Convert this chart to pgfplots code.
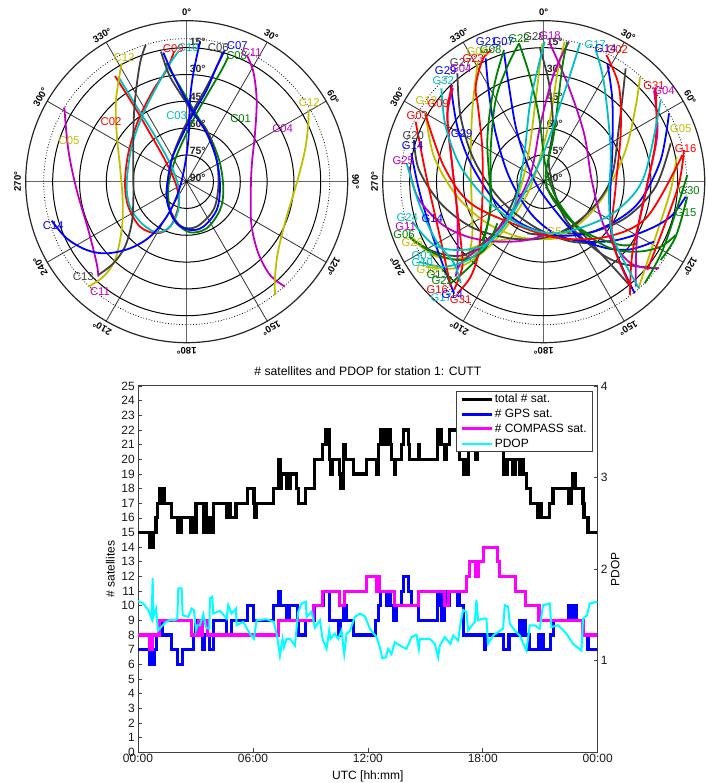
\documentclass[border=0pt]{standalone}
\usepackage{pgfplots}
\usepackage{fontspec}
\setmainfont{Liberation Sans}
\pgfplotsset{compat=1.18}
\definecolor{kk}{rgb}{0.25,0.25,0.25}
\definecolor{bb}{rgb}{0,0,1}
\definecolor{rr}{rgb}{1,0,0}
\definecolor{gg}{rgb}{0,0.5,0}
\definecolor{cc}{rgb}{0,0.75,0.75}
\definecolor{mm}{rgb}{0.75,0,0.75}
\definecolor{yy}{rgb}{0.75,0.75,0}
\definecolor{puremag}{rgb}{1,0,1}
\definecolor{purecy}{rgb}{0,1,1}
\newcommand{\satfont}{\fontsize{11.3}{13}\selectfont}
\newcommand{\tickfont}{\fontsize{12}{14}\selectfont}
\newcommand{\outfont}{\fontsize{9.5}{11}\selectfont\bfseries}
\newcommand{\skygrid}[3]{%
\begin{scope}[shift={(#1pt,#2pt)}]
 \foreach \a in {30,60,120,150,210,240,300,330} \draw[line width=.8pt,black!80] (0,0)--(\a:161pt);
 \foreach \a in {0,90,180,270} \draw[line width=1.1pt,black!60] (0,0)--(\a:161pt);
 \foreach \r in {26.8,53.6,80.4,107.2,134} \draw[line width=1pt,black] (0,0) circle (\r pt);
 \draw[line width=.8pt,black,dotted] (0,0) circle (143pt);
 \draw[line width=1.2pt,black!85] (0,0) circle (161pt);
 \fill (0,0) circle (1.5pt);
 \foreach \az in {#3} \node[rotate=-\az,font=\outfont,inner sep=0pt] at ({90-\az}:169pt) {\az°};
 \foreach \e/\r in {15/139.3,30/112.3,45/85,60/58.3,75/31,90/4}
   \node[font=\fontsize{10.5}{12}\selectfont\bfseries,inner sep=0pt,text=black!85] at (11pt,\r pt) {\e°};
\end{scope}}
\pgfplotsset{tr/.style={line width=1.8pt,smooth,tension=0.55,no marks},
 sky/.style={anchor=south west,width=354pt,height=360pt,scale only axis,hide axis,clip=false,
 xmin=0,xmax=1062,ymin=0,ymax=1080,y dir=reverse}}
\newcommand{\tr}[2]{\addplot[#1,tr] coordinates {#2};}
\newcommand{\lab}[4]{\node[text=#1,font=\satfont,inner sep=0pt] at (axis cs:#2,#3) {#4};}
\begin{document}
\begin{tikzpicture}[x=1pt,y=1pt]
\useasboundingbox (0,0) rectangle (708pt,783pt);
\skygrid{186.7}{601.3}{0,30,60,90,120,150,180,210,240,270,300,330}
\skygrid{543.7}{601.3}{0,30,60,120,150,180,210,240,270,300,330}

% ---- COMPASS sky plot ----
\begin{axis}[sky,at={(0pt,423pt)}]
\tr{gg}{(498,190)(540,260)(590,345)(630,410)(660,490)(670,570)(660,630)(620,685)(570,697)(530,670)(510,630)(505,560)(525,480)(555,410)(590,340)(630,270)(665,210)(685,170)}
\tr{rr}{(345,228)(400,315)(450,400)(500,490)(530,560)(535,620)(510,680)(470,700)(420,680)(385,620)(375,550)(385,460)(415,360)(460,270)(500,210)(522,155)}
\tr{cc}{(355,230)(410,320)(460,400)(510,490)(535,560)(535,630)(510,680)(470,697)(425,670)(390,620)(380,550)(395,440)(430,340)(470,260)(510,190)(535,155)}
\tr{mm}{(855,860)(810,825)(775,760)(755,680)(752,600)(755,500)(765,400)(770,300)(760,215)(740,165)}
\tr{mm}{(193,322)(205,450)(230,570)(265,690)(290,790)(295,830)}
\tr{yy}{(825,885)(825,830)(835,750)(860,650)(890,550)(915,450)(925,370)(925,330)}
\tr{yy}{(265,860)(310,830)(345,780)(365,690)(368,600)(360,500)(350,400)(348,300)(365,190)}
\tr{kk}{(483,155)(510,230)(560,310)(578,340)(620,390)(650,480)(655,560)(640,630)(590,680)(545,680)(515,640)(500,580)(515,480)(545,400)(580,330)(620,260)(655,190)(668,155)}
\tr{kk}{(295,825)(340,790)(375,740)(395,670)(400,600)(400,500)(400,400)(405,300)(420,190)(437,135)}
\tr{bb}{(490,158)(515,215)(550,285)(585,345)(620,400)(650,480)(660,560)(650,630)(610,680)(570,690)(530,670)(505,620)(500,570)(515,480)(545,410)(580,340)(620,270)(650,200)(675,150)}
\tr{bb}{(155,662)(200,715)(260,750)(320,760)(390,745)(450,710)(500,650)(530,590)(550,520)(565,420)(570,300)(580,220)(600,125)}
\lab{gg}{722}{355}{C01}
\lab{rr}{333}{366}{C02}
\lab{cc}{530}{346}{C03}
\lab{mm}{848}{385}{C04}
\lab{yy}{207}{422}{C05}
\lab{kk}{655}{143}{C06}
\lab{bb}{712}{137}{C07}
\lab{gg}{710}{166}{C08}
\lab{rr}{520}{145}{C09}
\lab{cc}{565}{143}{C10}
\lab{mm}{755}{158}{C11}
\lab{mm}{300}{875}{C11}
\lab{yy}{372}{173}{C12}
\lab{yy}{928}{307}{C12}
\lab{kk}{250}{830}{C13}
\lab{bb}{160}{678}{C14}
\end{axis}

% ---- GPS sky plot ----
\begin{axis}[sky,at={(354pt,423pt)}]
\tr{yy}{(170,715)(250,770)(340,770)(420,710)(480,620)(520,480)(545,300)(565,130)}
\tr{yy}{(215,800)(300,805)(370,770)(450,690)(530,560)(585,370)(610,220)(632,125)}
\tr{yy}{(858,232)(845,320)(815,450)(760,570)(700,650)(630,700)(560,716)(480,716)(400,728)(340,750)}
\tr{yy}{(215,340)(240,470)(310,590)(400,670)(500,712)(600,716)(650,695)}
\tr{yy}{(968,470)(950,570)(905,710)(855,860)}
\tr{yy}{(372,182)(355,330)(350,500)(355,700)(340,775)}
\tr{kk}{(180,420)(195,510)(260,610)(350,680)(450,712)(540,718)(620,700)}
\tr{kk}{(310,220)(320,350)(360,480)(440,600)(540,680)(640,722)(720,730)}
\tr{kk}{(558,145)(585,250)(597,380)(585,500)(630,650)(720,745)(800,790)(910,805)}
\tr{kk}{(815,205)(795,380)(770,540)(700,640)(610,700)(520,700)}
\tr{kk}{(950,430)(905,560)(820,650)(720,695)(640,700)}
\tr{kk}{(170,715)(240,755)(330,765)(420,700)(470,620)(500,540)}
\tr{kk}{(575,560)(640,650)(740,760)(835,865)}
\tr{bb}{(395,175)(405,280)(425,400)(465,530)(530,640)(610,705)(700,725)(790,720)(880,690)(950,650)(995,590)}
\tr{bb}{(450,158)(465,260)(490,400)(540,540)(610,640)(680,715)(760,745)(830,748)(900,725)}
\tr{bb}{(290,255)(310,380)(350,490)(420,600)(500,670)(600,705)(700,700)(790,660)(860,600)(920,480)(945,340)}
\tr{bb}{(172,460)(195,570)(230,690)(265,790)(300,880)}
\tr{bb}{(760,190)(775,300)(775,450)(768,620)(780,740)(842,880)}
\tr{mm}{(165,500)(190,590)(260,670)(340,710)(430,725)(520,720)(600,695)}
\tr{mm}{(585,125)(640,250)(690,400)(715,550)(755,690)(830,790)(915,805)}
\tr{mm}{(645,125)(600,220)(560,370)(530,520)(470,640)(390,730)(320,790)(305,830)}
\tr{mm}{(900,272)(910,400)(880,550)(850,700)(845,860)}
\tr{mm}{(297,265)(280,350)(295,500)(310,650)(310,810)}
\tr{gg}{(495,130)(460,200)(425,300)(410,450)(410,600)(395,700)(365,780)(290,850)}
\tr{gg}{(495,130)(525,220)(555,350)(575,500)(610,600)(680,690)(770,745)(850,755)(920,740)(965,705)}
\tr{gg}{(450,150)(420,260)(400,420)(410,620)(385,720)}
\tr{gg}{(640,125)(625,200)(600,400)(575,540)(620,630)(700,700)(800,735)(850,730)}
\tr{gg}{(1000,525)(930,740)(872,850)}
\tr{gg}{(1000,590)(965,710)(920,780)}
\tr{gg}{(165,710)(240,760)(320,780)(390,750)(430,670)}
\tr{rr}{(185,365)(215,520)(260,720)(290,860)}
\tr{rr}{(215,345)(270,500)(350,610)(500,680)(620,715)(760,710)(880,650)(985,465)}
\tr{rr}{(295,255)(280,340)(295,500)(320,720)(325,800)(300,870)}
\tr{rr}{(412,150)(385,180)(365,260)(372,320)(385,450)(385,600)(375,750)(350,830)(310,880)}
\tr{rr}{(757,165)(795,260)(800,400)(785,560)(775,720)(830,860)}
\tr{rr}{(905,265)(905,420)(870,600)(835,760)(828,885)}
\tr{rr}{(990,450)(975,550)(930,680)(880,810)}
\tr{cc}{(262,265)(275,380)(320,500)(400,600)(490,670)(590,700)(690,680)(790,630)(870,530)(920,300)}
\tr{cc}{(175,665)(240,735)(320,750)(400,730)(470,650)(560,480)(630,280)(678,130)}
\tr{cc}{(195,785)(270,800)(350,775)(430,700)(480,620)(510,470)(530,300)(572,125)}
\tr{cc}{(158,490)(195,610)(245,720)(300,790)(320,850)}
\tr{cc}{(725,150)(750,250)(770,450)(765,600)(780,720)(855,865)}
\lab{bb}{398}{124}{G21}
\lab{bb}{448}{126}{G07}
\lab{gg}{495}{116}{G22}
\lab{kk}{540}{110}{G28}
\lab{mm}{588}{108}{G18}
\lab{cc}{724}{135}{G17}
\lab{bb}{755}{145}{G14}
\lab{rr}{790}{150}{G02}
\lab{yy}{370}{155}{G06}
\lab{gg}{410}{148}{G08}
\lab{kk}{320}{188}{G27}
\lab{rr}{358}{177}{G23}
\lab{mm}{320}{207}{G04}
\lab{bb}{275}{212}{G29}
\lab{cc}{268}{242}{G32}
\lab{yy}{217}{302}{G12}
\lab{rr}{253}{310}{G09}
\lab{rr}{190}{348}{G03}
\lab{kk}{178}{408}{G20}
\lab{bb}{176}{438}{G14}
\lab{bb}{323}{400}{G29}
\lab{mm}{148}{483}{G25}
\lab{rr}{900}{257}{G31}
\lab{mm}{930}{271}{G04}
\lab{yy}{980}{387}{G05}
\lab{rr}{995}{445}{G16}
\lab{gg}{1005}{573}{G30}
\lab{gg}{995}{638}{G15}
\lab{cc}{160}{654}{G24}
\lab{bb}{235}{655}{G14}
\lab{mm}{155}{680}{G11}
\lab{gg}{150}{705}{G06}
\lab{yy}{175}{727}{G26}
\lab{cc}{205}{766}{G03}
\lab{cc}{205}{787}{G10}
\lab{yy}{220}{808}{G19}
\lab{gg}{250}{825}{G13}
\lab{gg}{265}{842}{G22}
\lab{rr}{250}{868}{G16}
\lab{cc}{262}{892}{G17}
\lab{bb}{295}{885}{G14}
\lab{rr}{320}{898}{G31}
\lab{yy}{600}{695}{G5}
\end{axis}

% ---- satellites count ----
\begin{axis}[at={(138pt,30.7pt)},anchor=south west,width=459.7pt,height=366.3pt,scale only axis,
 xmin=0,xmax=1380,ymin=0,ymax=25,
 xtick={0,345,690,1035,1380},xticklabels={00:00,06:00,12:00,18:00,00:00},
 ytick={0,1,...,25},tick align=inside,xtick pos=bottom,ytick pos=left,
 major tick length=4pt,tick style={kk,line width=.7pt},axis line style={line width=1pt,kk},
 ticklabel style={font=\tickfont,text=black!90},
 yticklabel style={inner sep=0pt,xshift=-3pt},
 xticklabel style={inner sep=0pt,yshift=-2pt},
 /pgf/number format/assume math mode=true,
 title={\# satellites and PDOP for station 1: CUTT},
 title style={font=\fontsize{12.2}{14}\selectfont,at={(axis description cs:0.5,1.0255)},anchor=center,inner sep=0pt},
 xlabel={UTC [hh:mm]},ylabel={\# satellites},
 every axis x label/.style={at={(axis description cs:0.5,-0.0665)},anchor=center,font=\tickfont,inner sep=0pt},
 every axis y label/.style={at={(axis description cs:-0.06,0.5)},rotate=90,anchor=center,font=\tickfont,inner sep=0pt},
 clip=true]
\addplot[black,line width=3.2pt,const plot,no marks,line join=miter] coordinates {
(0,15)(34,14)(38,15)(42,14)(46,15)(54,16)(59,17)(64,18)(68,17)(71,18)(78,17)(101,16)(118,15)(122,16)(126,15)(130,16)(156,16)(158,15)(165,16)(171,15)(174,17)(196,15)(201,17)(206,15)(208,16)(214,15)(218,16)(222,15)(226,17)(266,16)(271,17)(276,16)(294,17)(328,18)(348,17)(351,16)(356,17)(406,18)(422,20)(428,18)(431,19)(446,18)(456,19)(476,18)(481,17)(504,18)(531,20)(554,21)(562,22)(566,21)(569,22)(574,20)(578,19)(584,20)(604,19)(608,18)(612,19)(614,18)(618,21)(624,20)(648,19)(686,20)(716,19)(721,21)(728,22)(733,21)(738,22)(743,21)(748,22)(758,21)(761,20)(769,19)(774,20)(791,21)(798,22)(811,21)(816,20)(841,21)(846,20)(898,22)(904,21)(908,22)(911,21)(921,20)(926,21)(936,22)(966,20)(976,19)(981,20)(986,19)(991,21)(1014,20)(1020,21)(1096,19)(1108,20)(1126,19)(1133,20)(1146,19)(1152,20)(1158,19)(1166,18)(1179,17)(1201,16)(1206,17)(1211,16)(1236,17)(1246,18)(1294,17)(1301,18)(1306,19)(1314,18)(1336,17)(1339,16)(1351,15)(1380,15)};
\addplot[bb,line width=3.2pt,const plot,no marks,line join=miter] coordinates {
(0,7)(36,6)(48,7)(56,8)(66,9)(74,8)(101,7)(118,6)(134,7)(166,8)(174,9)(181,8)(194,7)(200,8)(214,7)(226,9)(266,8)(281,9)(328,10)(346,9)(406,10)(422,11)(428,10)(446,9)(453,10)(478,9)(481,8)(504,9)(531,10)(556,11)(574,9)(601,8)(608,9)(618,10)(626,9)(648,8)(714,9)(721,10)(728,11)(746,10)(752,11)(758,10)(766,9)(769,10)(773,9)(776,10)(791,11)(798,12)(811,11)(821,10)(841,9)(898,11)(902,10)(906,11)(911,9)(921,11)(926,10)(936,11)(958,10)(962,11)(966,10)(976,8)(1039,7)(1044,8)(1096,7)(1114,8)(1146,9)(1152,8)(1156,9)(1164,8)(1174,7)(1204,8)(1209,7)(1214,8)(1218,7)(1239,8)(1248,9)(1294,10)(1298,9)(1306,10)(1316,9)(1336,8)(1351,7)(1380,7)};
\addplot[puremag,line width=3.2pt,const plot,no marks,line join=miter] coordinates {
(0,8)(36,7)(44,8)(63,9)(161,8)(181,9)(191,8)(194,9)(201,9)(208,8)(421,9)(528,10)(553,11)(604,10)(621,11)(686,12)(716,11)(720,12)(724,11)(771,10)(841,11)(919,10)(933,11)(986,12)(994,13)(1014,12)(1021,13)(1038,14)(1079,13)(1086,12)(1133,11)(1163,10)(1204,9)(1336,8)(1380,8)};
\end{axis}

% ---- PDOP ----
\begin{axis}[at={(138pt,30.7pt)},anchor=south west,width=459.7pt,height=366.3pt,scale only axis,
 xmin=0,xmax=1380,ymin=0,ymax=4,axis x line=none,axis y line*=right,
 ytick={1,2,3,4},tick align=inside,major tick length=4pt,tick style={kk,line width=.7pt},
 axis line style={line width=1pt,kk},
 ticklabel style={font=\tickfont,text=black!90},yticklabel style={inner sep=0pt,xshift=3pt},
 /pgf/number format/assume math mode=true,
 ylabel={PDOP},
 every axis y label/.style={at={(axis description cs:1.038,0.5)},rotate=90,anchor=center,font=\tickfont,inner sep=0pt},
 legend image code/.code={\draw[#1] (0pt,0pt)--(30pt,0pt);},
 legend style={at={(axis description cs:0.691,0.986)},anchor=north west,draw=kk,line width=.9pt,fill=white,
   font=\tickfont,inner xsep=4pt,inner ysep=1pt,row sep=1.9pt,
   nodes={inner sep=1.5pt,anchor=west}},
 legend cell align=left]
\addlegendimage{black,line width=3.2pt}
\addlegendentry{total \# sat.}
\addlegendimage{bb,line width=3.2pt}
\addlegendentry{\# GPS sat.}
\addlegendimage{puremag,line width=3.2pt}
\addlegendentry{\# COMPASS sat.}
\addplot[purecy,line width=2pt,no marks] coordinates {
(0,1.651)(16,1.625)(31,1.552)(41,1.460)(44,1.901)(46,1.478)(54,1.570)(60,1.331)(68,1.361)(78,1.405)(96,1.449)(111,1.442)(118,1.460)(121,1.791)(131,1.791)(134,1.497)(151,1.478)(161,1.570)(168,1.552)(174,1.331)(178,1.387)(186,1.387)(196,1.508)(204,1.361)(214,1.350)(216,1.681)(223,1.699)(226,1.515)(246,1.545)(266,1.460)(271,1.607)(281,1.515)(294,1.570)(296,1.387)(316,1.423)(336,1.295)(348,1.239)(356,1.442)(386,1.453)(408,1.423)(418,1.258)(426,1.056)(434,1.239)(438,1.148)(446,1.239)(456,1.239)(471,1.166)(476,1.350)(481,1.534)(491,1.625)(504,1.644)(506,1.478)(521,1.534)(531,1.361)(546,1.442)(554,1.239)(566,1.129)(574,1.331)(578,1.239)(591,1.295)(601,1.239)(611,1.331)(619,1.074)(626,1.295)(636,1.324)(651,1.478)(666,1.515)(681,1.486)(696,1.350)(716,1.258)(726,1.148)(733,1.026)(744,1.037)(751,1.129)(761,1.074)(771,1.203)(786,1.166)(806,1.129)(821,1.258)(836,1.283)(843,1.129)(846,1.239)(876,1.239)(891,1.184)(901,1.037)(906,1.166)(921,1.258)(938,1.184)(946,1.276)(961,1.221)(968,1.405)(976,1.552)(986,1.534)(991,1.331)(1011,1.423)(1016,1.662)(1021,1.442)(1036,1.460)(1046,1.460)(1051,1.184)(1066,1.276)(1096,1.350)(1101,1.607)(1111,1.589)(1116,1.405)(1131,1.331)(1146,1.276)(1166,1.111)(1176,1.387)(1191,1.387)(1206,1.350)(1216,1.607)(1236,1.625)(1241,1.368)(1261,1.387)(1286,1.295)(1306,1.184)(1331,1.111)(1336,1.460)(1348,1.497)(1356,1.625)(1379,1.644)};
\addlegendentry{PDOP}
\end{axis}
\end{tikzpicture}
\end{document}
